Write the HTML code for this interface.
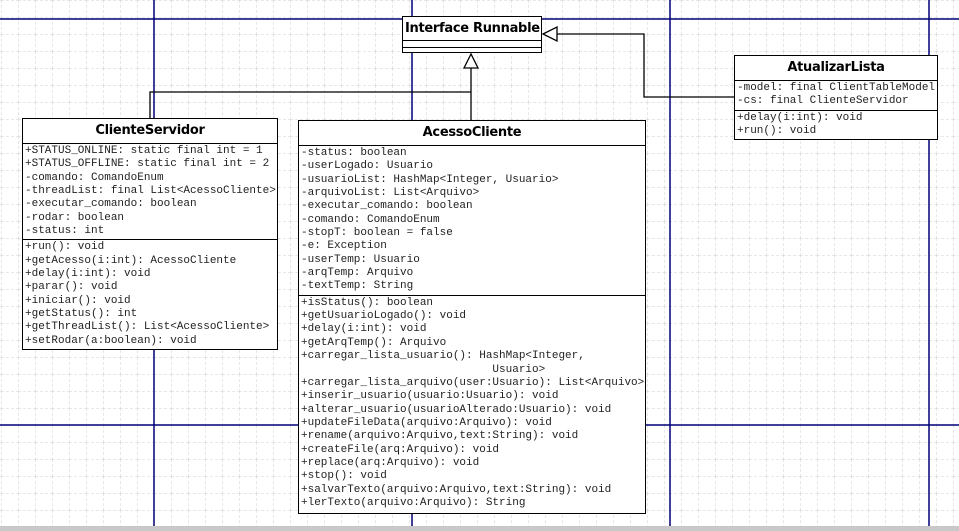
<!DOCTYPE html>
<html><head><meta charset="utf-8"><style>
body{margin:0;width:959px;height:531px;overflow:hidden;background:#fff;position:relative;font-family:"Liberation Mono",monospace}
.box{position:absolute;background:#fff;border:1.5px solid #000;box-sizing:border-box}
.t{font-family:"DejaVu Sans","Liberation Sans",sans-serif;font-weight:bold;font-size:13px;text-align:center;border-bottom:1.5px solid #000;letter-spacing:-0.3px}
.s{font-size:11px;line-height:13.35px;padding:1px 0 1px 2px;white-space:pre;color:#222}
.s+.s{border-top:1.5px solid #000}
</style></head><body>
<svg width="959" height="531" style="position:absolute;left:0;top:0">
<defs><pattern id="g" x="1" y="0" width="17" height="17" patternUnits="userSpaceOnUse">
<path d="M0 0V17M0 0H17" stroke="#cfcfcf" stroke-width="1" stroke-dasharray="3,2" fill="none"/></pattern></defs>
<rect width="959" height="531" fill="url(#g)"/>
<g stroke="#00007a" stroke-width="1.5">
<line x1="0" y1="19" x2="959" y2="19"/><line x1="0" y1="425" x2="959" y2="425"/>
<line x1="154" y1="0" x2="154" y2="526"/><line x1="412" y1="0" x2="412" y2="526"/>
<line x1="670" y1="0" x2="670" y2="526"/><line x1="929" y1="0" x2="929" y2="526"/>
</g>
<rect y="526" width="959" height="5" fill="#c8c8c8"/>
<g stroke="#000" stroke-width="1.3" fill="none">
<polyline points="150,118 150,92 471,92"/>
<line x1="471" y1="120" x2="471" y2="68"/>
<polygon points="471,54 464,68 478,68" fill="#fff"/>
<polyline points="734,97 644,97 644,34 557,34"/>
<polygon points="543,34 557,27 557,41" fill="#fff"/>
</g>
</svg>
<div class="box" style="left:402px;top:16px;width:140px;height:37px">
<div class="t" style="height:23px;line-height:23px;text-align:left;padding-left:2px">Interface Runnable</div>
<div style="height:6px;border-bottom:1.5px solid #000"></div></div>
<div class="box" style="left:22px;top:118px;width:256px;height:232px">
<div class="t" style="height:24px;line-height:24px">ClienteServidor</div>
<div class="s">+STATUS_ONLINE: static final int = 1
+STATUS_OFFLINE: static final int = 2
-comando: ComandoEnum
-threadList: final List&lt;AcessoCliente&gt;
-executar_comando: boolean
-rodar: boolean
-status: int</div>
<div class="s">+run(): void
+getAcesso(i:int): AcessoCliente
+delay(i:int): void
+parar(): void
+iniciar(): void
+getStatus(): int
+getThreadList(): List&lt;AcessoCliente&gt;
+setRodar(a:boolean): void</div></div>
<div class="box" style="left:298px;top:120px;width:348px;height:394px">
<div class="t" style="height:24px;line-height:24px">AcessoCliente</div>
<div class="s">-status: boolean
-userLogado: Usuario
-usuarioList: HashMap&lt;Integer, Usuario&gt;
-arquivoList: List&lt;Arquivo&gt;
-executar_comando: boolean
-comando: ComandoEnum
-stopT: boolean = false
-e: Exception
-userTemp: Usuario
-arqTemp: Arquivo
-textTemp: String</div>
<div class="s">+isStatus(): boolean
+getUsuarioLogado(): void
+delay(i:int): void
+getArqTemp(): Arquivo
+carregar_lista_usuario(): HashMap&lt;Integer,
                             Usuario&gt;
+carregar_lista_arquivo(user:Usuario): List&lt;Arquivo&gt;
+inserir_usuario(usuario:Usuario): void
+alterar_usuario(usuarioAlterado:Usuario): void
+updateFileData(arquivo:Arquivo): void
+rename(arquivo:Arquivo,text:String): void
+createFile(arq:Arquivo): void
+replace(arq:Arquivo): void
+stop(): void
+salvarTexto(arquivo:Arquivo,text:String): void
+lerTexto(arquivo:Arquivo): String</div></div>
<div class="box" style="left:734px;top:55px;width:204px;height:85px">
<div class="t" style="height:24px;line-height:24px">AtualizarLista</div>
<div class="s">-model: final ClientTableModel
-cs: final ClienteServidor</div>
<div class="s">+delay(i:int): void
+run(): void</div></div>
</body></html>
